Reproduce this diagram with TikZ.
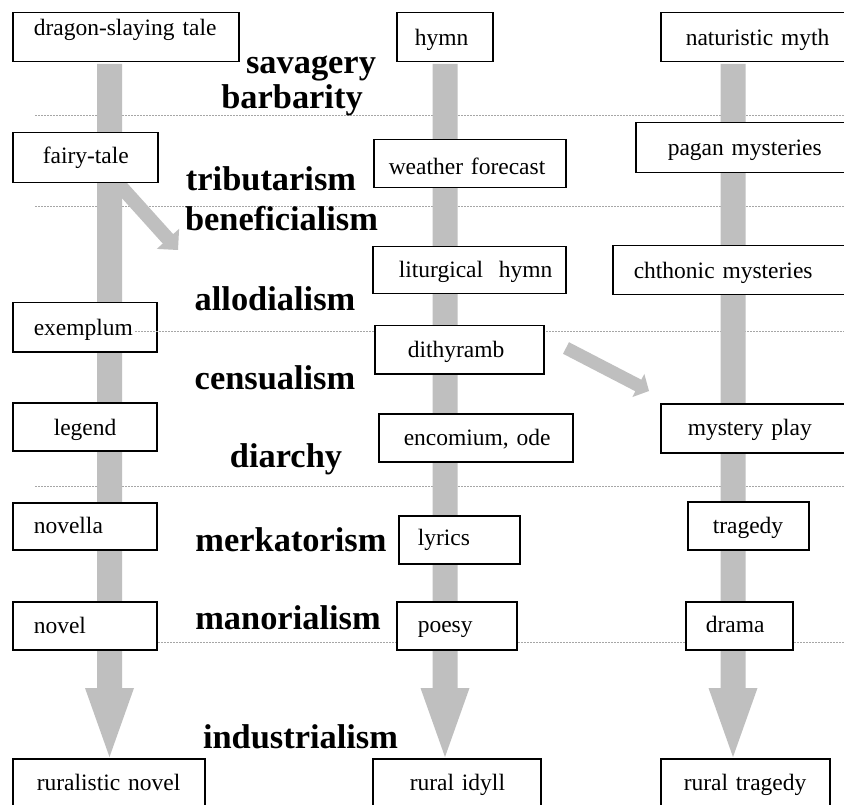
\documentclass[tikz,border=0pt]{standalone}
\usepackage{fontspec}
\setmainfont{Liberation Serif}
\usetikzlibrary{calc}
\setlength{\parindent}{0pt}
\definecolor{barc}{HTML}{BFBFBF}
\definecolor{sepc}{HTML}{A6A6A6}
\newcommand\blockarrow[5]{%
  \coordinate (ba-hb) at ($(#2)!#5!(#1)$);
  \fill[barc] ($(#1)!#3!90:(#2)$) -- ($(ba-hb)!#3!90:(#2)$) -- ($(ba-hb)!#4!90:(#2)$) -- (#2)
     -- ($(ba-hb)!#4!-90:(#2)$) -- ($(ba-hb)!#3!-90:(#2)$) -- ($(#1)!#3!-90:(#2)$) -- cycle;}
\begin{document}
\begin{tikzpicture}[x=1pt,y=-1pt,
  box/.style={draw=black, line width=1.5pt, fill=white, inner xsep=0pt, inner ysep=0pt,
    anchor=north west, align=left, font=\fontsize{23.5}{26}\selectfont},
  bw/.style={text width=#1pt},
  tp/.style={execute at begin node={\hspace*{#1pt}}},
  th/.style={text height=#1pt},
  td/.style={text depth=#1pt},
  era/.style={anchor=base, inner sep=0pt, font=\fontsize{34.4}{38}\selectfont\bfseries},
  sep/.style={draw=sepc, line width=0.8pt, dash pattern=on 2pt off 1pt}]
\useasboundingbox (0,0) rectangle (844,805);
\fill[white] (0,0) rectangle (844,805);
% separator lines (under bars)
\coordinate (l1a) at (35,115); \coordinate (l1b) at (844,115);
\coordinate (l2a) at (35,206); \coordinate (l2b) at (844,206);
\coordinate (l3a) at (135,331); \coordinate (l3b) at (844,331);
\coordinate (l4a) at (35,486); \coordinate (l4b) at (844,486);
\coordinate (l5a) at (35,642); \coordinate (l5b) at (844,642);
\draw[sep] (l1a) -- (l1b);
\draw[sep] (l2a) -- (l2b);
\draw[sep] (l4a) -- (l4b);
\draw[sep] (l5a) -- (l5b);
\draw[sep] (543,331) -- (l3b);
% bars
\coordinate (b1s) at (109.5,64); \coordinate (b1e) at (109.5,757);
\coordinate (b2s) at (445,64);   \coordinate (b2e) at (445,757);
\coordinate (b3s) at (733,64);   \coordinate (b3e) at (733,757);
\blockarrow{b1s}{b1e}{12.5pt}{24.5pt}{69pt}
\blockarrow{b2s}{b2e}{12.5pt}{24.5pt}{69pt}
\blockarrow{b3s}{b3e}{12.5pt}{24.5pt}{69pt}
\coordinate (d1s) at (104.4,168.3); \coordinate (d1e) at (178,250);
\coordinate (d2s) at (566,348);     \coordinate (d2e) at (649,391);
\blockarrow{d1s}{d1e}{7pt}{15pt}{15pt}
\blockarrow{d2s}{d2e}{6.5pt}{13pt}{12pt}
% boxes
\node[box,bw=226,tp=21,th=23,td=26] (dragon) at (12,12) {dragon-slaying tale};
\node[box,bw=96,tp=18,th=33,td=16] (hymn) at (396,12) {hymn};
\node[box,bw=210,tp=25,th=33,td=16] (natmyth) at (660,12) {naturistic myth};
\node[box,bw=145,tp=30,th=31,td=19] (fairy) at (12,132) {fairy-tale};
\node[box,bw=192,tp=15,th=35,td=13] (weather) at (373,139) {weather forecast};
\node[box,bw=235,tp=32,th=33,td=17] (pagan) at (635,122) {pagan mysteries};
\node[box,bw=193,tp=26,th=31,td=16] (liturg) at (372,246) {liturgical~~hymn};
\node[box,bw=258,tp=21,th=33,td=16] (chthon) at (612,245) {chthonic mysteries};
\node[box,bw=144,tp=21,th=33,td=16] (exempl) at (12,302) {exemplum};
\draw[sep] (l3a) -- (l3a -| 374,0);
\node[box,bw=169,tp=33,th=32,td=16] (dith) at (374,325) {dithyramb};
\node[box,bw=144,tp=41,th=33,td=15] (legend) at (12,402) {legend};
\node[box,bw=194,tp=25,th=32,td=16] (encom) at (378,413) {encomium, ode};
\node[box,bw=210,tp=27,th=32,td=17] (myst) at (660,403) {mystery play};
\node[box,bw=144,tp=21,th=31,td=16] (novella) at (12,502) {novella};
\node[box,bw=121,tp=19,th=30,td=18] (lyrics) at (398,515) {lyrics};
\node[box,bw=121,tp=25,th=32,td=16] (trag) at (687,501) {tragedy};
\node[box,bw=144,tp=21,th=32,td=16] (novel) at (12,601) {novel};
\node[box,bw=120,tp=21,th=31,td=17] (poesy) at (396,601) {poesy};
\node[box,bw=107,tp=20,th=31,td=17] (drama) at (685,601) {drama};
\node[box,bw=192,tp=24,th=32,td=40] (rurnov) at (12,758) {ruralistic novel};
\node[box,bw=168,tp=37,th=32,td=40] (ruridyll) at (372,758) {rural idyll};
\node[box,bw=169,tp=23,th=32,td=40] (rurtrag) at (660,758) {rural tragedy};
% era labels
\node[era] (savagery) at (311,74) {savagery};
\node[era] (barbarity) at (292,109) {barbarity};
\node[era] (tribut) at (271,191) {tributarism};
\node[era] (benef) at (281.5,231) {beneficialism};
\node[era] (allod) at (275,311) {allodialism};
\node[era] (census) at (275,389) {censualism};
\node[era] (diarchy) at (286,467) {diarchy};
\node[era] (merk) at (291,551) {merkatorism};
\node[era] (manor) at (288,629) {manorialism};
\node[era] (indust) at (300.5,748) {industrialism};
\end{tikzpicture}
\end{document}
